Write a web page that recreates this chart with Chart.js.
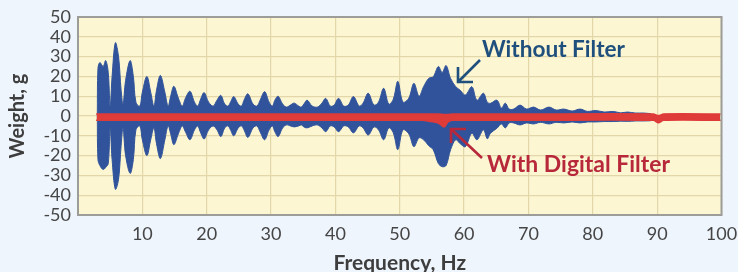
<!DOCTYPE html>
<html>
<head>
<meta charset="utf-8">
<script src="https://cdn.jsdelivr.net/npm/chart.js@4/dist/chart.umd.min.js"></script>
<style>
  html, body { margin: 0; padding: 0; background: #eef5fc; }
  #wrap { width: 738px; height: 272px; }
</style>
</head>
<body>
<div id="wrap"><canvas id="c" width="738" height="272"></canvas></div>
<script>
// ---- Data ----
const xTickLabels = ['', '10', '20', '30', '40', '50', '60', '70', '80', '90', '100'];
const yTickLabels = ['-50', '-40', '-30', '-20', '-10', '0', '10', '20', '30', '40', '50'];

// "Without Filter" signal envelope (Hz, upper g, lower g)
const blueFreq  = [3.0, 3.1, 3.4, 3.9, 4.3, 4.7, 5.0, 5.3, 5.8, 6.3, 6.7, 7.0, 7.4, 8.1, 8.6, 9.0, 9.6,
  10.0, 10.7, 11.3, 11.8, 12.2, 12.8, 13.5, 14.0, 14.4, 14.9, 15.6, 16.2, 16.7, 17.4, 18.1, 18.6, 19.0, 19.6,
  20.3, 21.0, 21.6, 22.2, 22.8, 23.3, 23.7, 24.2, 24.9, 25.4, 25.8, 26.4, 27.2, 27.8, 28.3, 29.0, 29.7,
  30.2, 30.6, 31.1, 31.8, 32.4, 33.0, 33.6, 34.3, 34.7, 35.1, 35.6, 36.4, 37.2, 37.9, 38.5, 39.2, 39.8,
  40.5, 41.3, 42.0, 42.8, 43.7, 44.3, 45.1, 46.0, 46.7, 47.5, 48.3, 49.0, 49.7, 50.5, 51.4, 52.2, 53.0,
  53.7, 54.5, 55.2, 56.0, 56.6, 57.2, 57.9, 58.7, 59.4, 60.2, 61.2, 62.0, 63.0, 63.6, 64.1, 65.1, 65.8,
  66.4, 67.0, 67.7, 68.7, 69.7, 70.8, 71.9, 73.2, 74.3, 75.5, 76.8, 78.0, 79.2, 80.4, 81.8, 83.2, 84.3,
  85.4, 86.6, 87.8, 89.0];
const blueUpper = [0, 24, 27, 25, 28, 22, 5, 20, 37, 30, 13, 6, 18, 28, 20, 7, 5,
  12, 20, 12, 5, 13, 20.5, 12, 5, 10, 15, 9, 5, 9, 12.5, 7, 5, 8, 11.8,
  7, 5, 8, 10.4, 6, 5, 7, 9.8, 6, 5, 8, 11.2, 6, 5, 8, 12.3, 7,
  5, 8, 10, 6, 4.5, 5.5, 6.5, 5, 4.5, 6, 8, 5, 4.5, 6.5, 8.9, 5, 5.5,
  8.9, 5, 5.5, 9.8, 5, 6.5, 11.5, 5.5, 7, 14, 6, 8.5, 17.5, 7, 9, 16.5, 10,
  14.8, 19, 19.8, 25, 22, 25.5, 19, 14.8, 13, 10.6, 14.8, 8, 11.5, 7, 6.4, 8, 4,
  6.5, 3.5, 3.5, 5.5, 3.5, 4.5, 3, 4.5, 3, 3.5, 2.5, 3.5, 2.3, 2.8, 2, 2.3, 1.6,
  2, 1.5, 1.5, 1.2];
const blueLower = [0, -22, -25, -27, -26, -24, -6, -22, -37, -32, -15, -6, -20, -29, -22, -7, -5,
  -12, -20, -12, -6, -14, -21.5, -12, -5, -9, -14.5, -9, -5, -8, -12, -7, -5, -8, -11.6,
  -7, -5, -7, -10.4, -6, -5, -7, -10, -6, -5, -7, -10.8, -6, -5, -8, -12, -7,
  -5, -8, -10.4, -6, -4.5, -5, -5.5, -5, -4.5, -5.5, -6, -5, -4.5, -6, -7.9, -5, -5.5,
  -7.9, -5, -5.5, -8.5, -5, -6, -9.6, -5.5, -7, -12, -6, -8.5, -17, -7, -9, -15.5, -11,
  -12, -15, -17, -24, -25.6, -25, -17, -12, -14, -15.5, -8.7, -12, -7, -11.5, -8.7, -6.2, -4,
  -6, -3.5, -3.5, -4.5, -3.5, -4, -3.2, -4, -3.2, -3.5, -3, -3.5, -3, -3, -2.8, -2.8, -2.6,
  -2.7, -2.5, -2.5, -2.4];

// "With Digital Filter" signal band (Hz, upper g, lower g)
const redFreq  = [2.9, 20, 40, 53.5, 54.5, 56.0, 56.9, 57.5, 58.2, 70, 89.4, 90.2, 91.0, 99.8];
const redUpper = [1.0, 1.0, 1.0, 1.0, 1.0, 1.0, 0.8, 0.8, 1.0, 1.0, 1.0, 0.2, 1.0, 1.0];
const redLower = [-2.2, -2.2, -2.2, -2.2, -2.6, -3.5, -5.6, -3.0, -2.2, -2.2, -2.2, -3.4, -2.2, -2.2];

// ---- Styles ----
const BLUE = '#30539b';
const RED = '#de3b39';
const PAGE_BG = '#eef5fc';
const PLOT_BG = '#fcf6d3';
const GRID = '#e3d7a9';
const FRAME = '#9c9c98';
const TEXT = '#454545';

const pts = (xs, ys) => xs.map((x, i) => ({ x: x, y: ys[i] }));

const bgPlugin = {
  id: 'bg',
  beforeDraw(chart) {
    const { ctx, chartArea: a } = chart;
    ctx.save();
    ctx.fillStyle = PAGE_BG;
    ctx.fillRect(0, 0, chart.width, chart.height);
    ctx.fillStyle = PLOT_BG;
    ctx.fillRect(a.left, a.top, a.right - a.left, a.bottom - a.top);
    ctx.restore();
  },
  afterDraw(chart) {
    const { ctx, chartArea: a } = chart;
    ctx.save();
    ctx.strokeStyle = FRAME;
    ctx.lineWidth = 2;
    ctx.strokeRect(a.left, a.top, a.right - a.left, a.bottom - a.top);
    ctx.restore();
  }
};

function fitText(ctx, text, weight, family, width) {
  ctx.font = weight + ' 20px ' + family;
  const w = ctx.measureText(text).width;
  const size = 20 * width / w;
  ctx.font = weight + ' ' + size.toFixed(2) + 'px ' + family;
}

const notePlugin = {
  id: 'notes',
  afterDraw(chart) {
    const { ctx } = chart;
    ctx.save();
    ctx.lineCap = 'butt';
    ctx.lineJoin = 'miter';
    // Without Filter
    ctx.fillStyle = '#1e4f7d';
    ctx.textBaseline = 'alphabetic';
    ctx.textAlign = 'left';
    fitText(ctx, 'Without Filter', 'bold', 'Lato', 143);
    ctx.fillText('Without Filter', 482, 57);
    ctx.strokeStyle = '#1e4f7d';
    ctx.lineWidth = 2.6;
    ctx.beginPath();
    ctx.moveTo(480, 60); ctx.lineTo(458, 82);
    ctx.moveTo(473, 82); ctx.lineTo(458, 82); ctx.lineTo(458, 67);
    ctx.stroke();
    // With Digital Filter
    ctx.fillStyle = '#b8283b';
    fitText(ctx, 'With Digital Filter', 'bold', 'Lato', 183);
    ctx.fillText('With Digital Filter', 487, 172);
    ctx.strokeStyle = '#b8283b';
    ctx.beginPath();
    ctx.moveTo(482, 158); ctx.lineTo(451, 129);
    ctx.moveTo(466, 129); ctx.lineTo(451, 129); ctx.lineTo(451, 143);
    ctx.stroke();
    ctx.restore();
  }
};

new Chart(document.getElementById('c'), {
  type: 'line',
  data: {
    datasets: [
      { label: 'Without Filter (upper)', data: pts(blueFreq, blueUpper), borderColor: BLUE, backgroundColor: BLUE,
        borderWidth: 1, pointRadius: 0, tension: 0.35, fill: { target: 1 }, order: 2 },
      { label: 'Without Filter (lower)', data: pts(blueFreq, blueLower), borderColor: BLUE, backgroundColor: BLUE,
        borderWidth: 1, pointRadius: 0, tension: 0.35, fill: false, order: 2 },
      { label: 'With Digital Filter (upper)', data: pts(redFreq, redUpper), borderColor: RED, backgroundColor: RED,
        borderWidth: 1.5, pointRadius: 0, tension: 0.3, fill: { target: 3 }, order: 1, borderCapStyle: 'round' },
      { label: 'With Digital Filter (lower)', data: pts(redFreq, redLower), borderColor: RED, backgroundColor: RED,
        borderWidth: 1.5, pointRadius: 0, tension: 0.3, fill: false, order: 1, borderCapStyle: 'round' }
    ]
  },
  options: {
    responsive: false,
    animation: false,
    events: [],
    layout: { padding: { top: 17, right: 16.5, left: 0, bottom: 0 } },
    plugins: { legend: { display: false }, tooltip: { enabled: false } },
    scales: {
      x: {
        type: 'linear', min: 0, max: 100,
        afterFit(s) { s.height = 57; s.paddingLeft = 0; s.paddingRight = 0; },
        afterBuildTicks(s) { s.ticks = xTickLabels.map((_, i) => ({ value: i * 10 })); },
        ticks: { stepSize: 10, padding: 8, autoSkip: false, maxRotation: 0, color: TEXT,
          font: { family: 'Lato', size: 18 }, callback: (v, i) => xTickLabels[i] },
        grid: { color: GRID, lineWidth: 1.2, drawTicks: false },
        border: { display: false },
        title: { display: true, text: 'Frequency, Hz', color: '#3e3e3e',
          font: { family: 'Lato', size: 21, weight: 'bold', lineHeight: '18px' }, padding: { top: 0, bottom: 0 } }
      },
      y: {
        type: 'linear', min: -50, max: 50,
        afterFit(s) { s.width = 78; s.paddingTop = 0; s.paddingBottom = 0; },
        afterBuildTicks(s) { s.ticks = yTickLabels.map(t => ({ value: Number(t) })); },
        ticks: { stepSize: 10, padding: 7, autoSkip: false, color: TEXT, font: { family: 'Lato', size: 18, lineHeight: 1 },
          callback: (v, i) => yTickLabels[i] },
        grid: { color: GRID, lineWidth: 1.2, drawTicks: false },
        border: { display: false },
        title: { display: true, text: 'Weight, g', color: '#3e3e3e',
          font: { family: 'Lato', size: 20, weight: 'bold', lineHeight: '24px' }, padding: { top: 6, bottom: 0 } }
      }
    }
  },
  plugins: [bgPlugin, notePlugin]
});
</script>
</body>
</html>
